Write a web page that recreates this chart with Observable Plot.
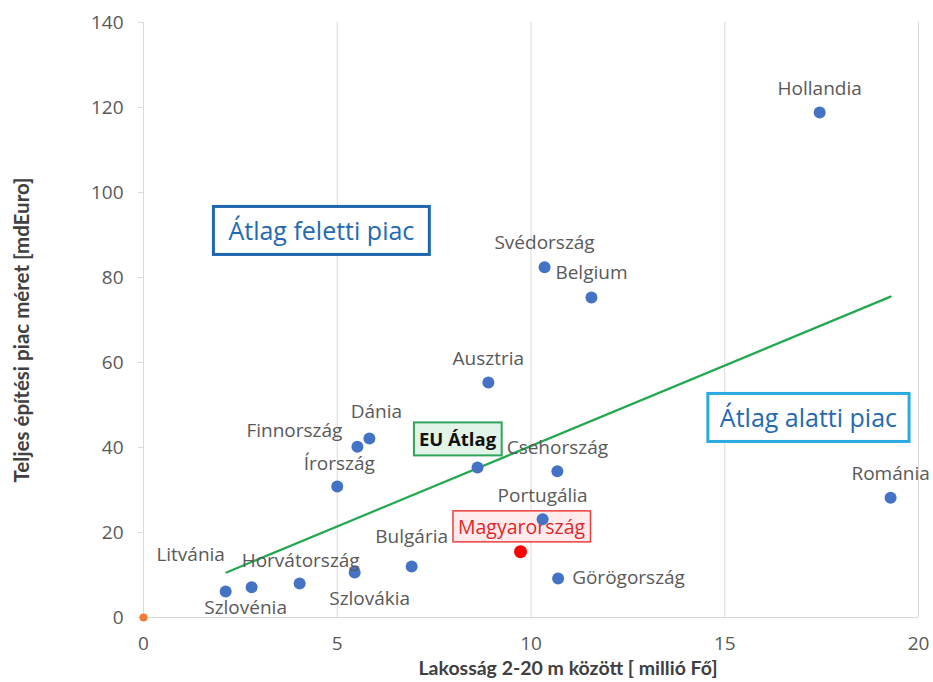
<!DOCTYPE html>
<html><head><meta charset="utf-8">
<script src="https://cdn.jsdelivr.net/npm/d3@7"></script>
<script src="https://cdn.jsdelivr.net/npm/@observablehq/plot@0.6"></script>
<style>body{margin:0;background:#fff;} #chart svg{display:block;}</style>
</head><body><div id="chart"></div>
<script>
// ---- data ----
const countries = ["Hollandia","Svédország","Belgium","Ausztria","Dánia","Finnország","EU Átlag","Csehország","Írország","Románia","Portugália","Magyarország","Görögország","Bulgária","Szlovákia","Horvátország","Szlovénia","Litvánia"];
const population = [17.45, 10.35, 11.56, 8.9, 5.83, 5.52, 8.62, 10.68, 5.0, 19.28, 10.3, 9.73, 10.7, 6.92, 5.45, 4.03, 2.79, 2.12];
const marketSize = [118.8, 82.4, 75.3, 55.3, 42.1, 40.2, 35.3, 34.4, 30.8, 28.2, 23.1, 15.5, 9.2, 12.0, 10.6, 8.0, 7.1, 6.1];
const originX = [0];
const originY = [0];
const trendX = [2.14, 19.28];
const trendY = [10.6, 75.5];
const xTicks = [0, 5, 10, 15, 20];
const yTicks = [0, 20, 40, 60, 80, 100, 120, 140];
const zoneLabels = ["Átlag feletti piac", "Átlag alatti piac"];
const zoneX = [4.59, 17.16];
const zoneY = [90.6, 46.6];

// ---- label placement (layout only) ----
const place = {
  "Hollandia": {dx: 0, dy: -24, a: "middle"},
  "Svédország": {dx: 0, dy: -24, a: "middle"},
  "Belgium": {dx: 0, dy: -25, a: "middle"},
  "Ausztria": {dx: 0, dy: -24, a: "middle"},
  "Dánia": {dx: 7, dy: -27, a: "middle"},
  "Finnország": {dx: -15, dy: -16, a: "end"},
  "EU Átlag": {dx: -20, dy: -27, a: "middle"},
  "Csehország": {dx: 0, dy: -23, a: "middle"},
  "Írország": {dx: 2, dy: -23, a: "middle"},
  "Románia": {dx: 0, dy: -24, a: "middle"},
  "Portugália": {dx: 0, dy: -23, a: "middle"},
  "Magyarország": {dx: 1, dy: -24, a: "middle"},
  "Görögország": {dx: 14, dy: 0, a: "start"},
  "Bulgária": {dx: 0, dy: -30, a: "middle"},
  "Szlovákia": {dx: 15, dy: 26, a: "middle"},
  "Horvátország": {dx: 1, dy: -23, a: "middle"},
  "Szlovénia": {dx: -6, dy: 21, a: "middle"},
  "Litvánia": {dx: -35, dy: -37, a: "middle"}
};

const rows = countries.map((c, i) => ({country: c, x: population[i], y: marketSize[i]}));
const plain = rows.filter(d => d.country !== "Magyarország" && d.country !== "EU Átlag");
const hu = rows.filter(d => d.country === "Magyarország");
const eu = rows.filter(d => d.country === "EU Átlag");
const trend = trendX.map((x, i) => ({x, y: trendY[i]}));
const origin = originX.map((x, i) => ({x, y: originY[i]}));
const zones = zoneLabels.map((t, i) => ({t, x: zoneX[i], y: zoneY[i]}));

const FONT = "'Open Sans', Lato, sans-serif";
const GRAY = "#595959";

function labelMarks(data, opts) {
  return data.map(d => Plot.text([d], {
    x: "x", y: "y", text: "country",
    dx: place[d.country].dx, dy: place[d.country].dy,
    textAnchor: place[d.country].a, ...opts
  }));
}

const chart = Plot.plot({
  width: 933,
  height: 682,
  marginLeft: 143,
  marginRight: 15,
  marginTop: 22,
  marginBottom: 65,
  style: {fontFamily: FONT, background: "#fff", overflow: "visible"},
  x: {domain: [0, 20], ticks: xTicks, label: null},
  y: {domain: [0, 140], ticks: yTicks, label: null},
  marks: [
    Plot.gridX(xTicks.filter(t => t > 0), {stroke: "#d9d9d9", strokeOpacity: 1}),
    Plot.ruleY([0], {stroke: "#d9d9d9"}),
    Plot.ruleX([0], {stroke: "#d9d9d9"}),
    Plot.axisX({ticks: xTicks, tickSize: 0, tickPadding: 19, fontSize: 19, fill: GRAY,
      label: "Lakosság 2-20 m között [ millió Fő]", labelAnchor: "center", labelArrow: "none", labelOffset: 57}),
    Plot.axisY({ticks: yTicks, tickSize: 5, tickPadding: 15, fontSize: 19, fill: GRAY, stroke: "#d9d9d9",
      label: "Teljes építési piac méret [mdEuro]", labelAnchor: "center", labelArrow: "none", labelOffset: 129}),
    ...labelMarks(hu, {fontSize: 19.5, fill: "#e3262b", className: "box-hu"}),
    ...labelMarks(eu, {fontSize: 18.5, fill: "#111", fontWeight: "bold", className: "box-eu"}),
    Plot.line(trend, {x: "x", y: "y", stroke: "#22a94f", strokeWidth: 2.2}),
    Plot.dot(plain, {x: "x", y: "y", r: 6, fill: "#4472c4"}),
    Plot.dot(eu, {x: "x", y: "y", r: 6, fill: "#4472c4"}),
    Plot.dot(hu, {x: "x", y: "y", r: 6.5, fill: "#ff0000"}),
    Plot.dot(origin, {x: "x", y: "y", r: 4, fill: "#ed7d31"}),
    ...labelMarks(plain, {fontSize: 19, fill: GRAY}),
    Plot.text(zones.slice(0, 1), {x: "x", y: "y", text: "t", fontSize: 25, fill: "#2369b3", className: "box-z1"}),
    Plot.text(zones.slice(1), {x: "x", y: "y", text: "t", fontSize: 25, fill: "#2369b3", className: "box-z2"})
  ]
});

document.getElementById("chart").appendChild(chart);

// axis title styling
chart.querySelectorAll("[aria-label='x-axis label'] text").forEach(t => {
  t.setAttribute("font-weight", "bold");
  t.setAttribute("font-size", "19.5");
  t.setAttribute("font-family", "Lato, sans-serif");
  t.setAttribute("fill", "#404040");
  t.setAttribute("dx", "37");
});
chart.querySelectorAll("[aria-label='y-axis label'] text").forEach(t => {
  t.setAttribute("font-weight", "bold");
  t.setAttribute("font-size", "20.5");
  t.setAttribute("font-family", "Lato, sans-serif");
  t.setAttribute("fill", "#404040");
  t.setAttribute("dx", "-10");
});

const boxStyles = {
  "box-hu": {stroke: "#e8403f", fill: "#fdeaea", sw: 1.5, px: 5, py: 3},
  "box-eu": {stroke: "#2ea55a", fill: "#e2f3e7", sw: 2, px: 5, py: 5},
  "box-z1": {stroke: "#1e66ae", fill: "#ffffff", sw: 3, px: 15, py: 8},
  "box-z2": {stroke: "#2aaae2", fill: "#ffffff", sw: 3, px: 12, py: 8}
};
Object.entries(boxStyles).forEach(([cls, s]) => {
  chart.querySelectorAll("g." + cls).forEach(g => {
    g.querySelectorAll("text").forEach(t => {
      const b = t.getBBox();
      const r = document.createElementNS("http://www.w3.org/2000/svg", "rect");
      r.setAttribute("x", b.x - s.px);
      r.setAttribute("y", b.y - s.py + 1);
      r.setAttribute("width", b.width + 2 * s.px);
      r.setAttribute("height", b.height + 2 * s.py - 2);
      r.setAttribute("fill", s.fill);
      r.setAttribute("stroke", s.stroke);
      r.setAttribute("stroke-width", s.sw);
      const tr = t.getAttribute("transform");
      if (tr) r.setAttribute("transform", tr);
      g.insertBefore(r, t);
    });
  });
});
</script>
</body></html>
